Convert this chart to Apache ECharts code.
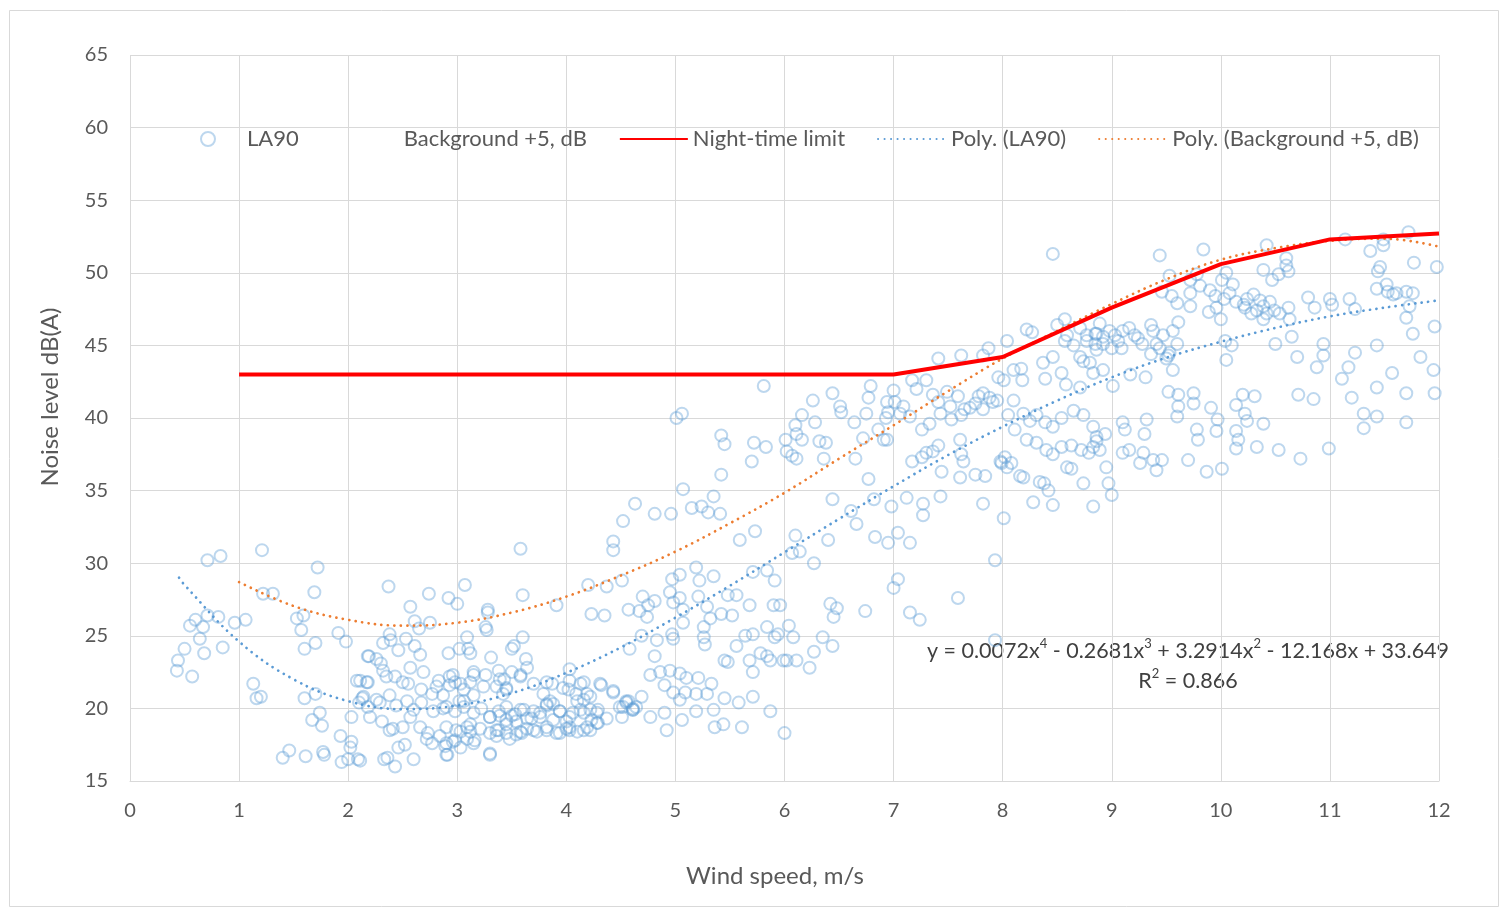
<!DOCTYPE html>
<html>
<head>
<meta charset="utf-8">
<script src="https://cdn.jsdelivr.net/npm/echarts@6/dist/echarts.min.js"></script>
<style>
html,body{margin:0;padding:0;background:#fff;}
#chart{width:1501px;height:909px;}
</style>
</head>
<body>
<div id="chart"></div>
<script>
// ---- Data ----
const seriesNames = ['LA90', 'Background +5, dB', 'Night-time limit', 'Poly. (LA90)', 'Poly. (Background +5, dB)'];
const axisTitles = { x: 'Wind speed, m/s', y: 'Noise level dB(A)' };
const xRange = [0, 12, 1];
const yRange = [15, 65, 5];

// LA90 measured points [wind speed m/s, dB]
const la90 = [
[0.71,30.2],[0.83,30.5],[1.21,30.9],[1.72,29.7],[1.22,27.9],[1.31,27.9],[1.69,28.0],[0.60,26.1],[0.71,26.4],[0.81,26.3],[0.55,25.7],[0.67,25.6],[0.64,24.8],[0.96,25.9],[1.06,26.1],[1.53,26.2],[1.59,26.4],[1.57,25.4],[1.91,25.2],[1.98,24.6],[1.70,24.5],[1.60,24.1],[0.50,24.1],[0.68,23.8],[0.85,24.2],[0.44,23.3],[0.43,22.6],[0.57,22.2],[1.13,21.7],[1.16,20.7],[1.20,20.8],[1.60,20.7],[1.70,21.0],[1.74,19.7],[1.67,19.2],[1.76,18.8],[2.03,19.4],[2.18,23.6],[2.08,21.9],[2.17,21.8],[2.10,20.4],[2.14,20.8],[1.93,18.1],[2.03,17.7],[2.02,17.3],[1.40,16.6],[1.46,17.1],[1.61,16.7],[1.77,17.0],[1.78,16.8],[1.94,16.3],[2.00,16.5],[2.09,16.5],[2.18,20.1],
[3.58,31.0],[2.37,28.4],[3.07,28.5],[2.74,27.9],[2.92,27.6],[3.00,27.2],[3.60,27.8],[2.57,27.0],[3.28,26.8],[3.28,26.6],[3.91,27.1],[2.61,26.0],[2.75,25.9],[2.65,25.5],[3.26,25.6],[3.27,25.4],[2.38,25.1],[2.39,24.7],[2.32,24.5],[2.53,24.8],[2.46,24.0],[2.61,24.3],[2.66,23.7],[3.09,24.9],[3.10,24.1],[3.12,23.8],[2.92,23.8],[3.02,24.1],[3.50,24.1],[3.52,24.3],[3.60,24.9],[3.31,23.5],[3.63,23.4],[2.19,23.6],[2.26,23.4],[2.30,23.1],[2.32,22.6],[2.35,22.2],[2.43,22.2],[2.57,22.8],[2.69,22.5],[2.50,21.8],[2.55,21.7],[2.18,21.8],[2.67,21.3],[2.83,21.9],[2.81,21.5],[2.96,22.3],[2.98,21.8],[2.93,21.6],[3.15,22.5],[3.12,21.8],[3.06,21.3],[3.26,22.3],[3.38,22.6],[3.43,22.0],[3.45,21.4],[3.50,22.5],[3.58,22.3],[3.64,22.8],[3.36,21.5],[3.42,21.0],[3.82,21.8],[3.87,21.7],[4.03,22.7],[4.02,21.3],[2.11,21.9],[2.13,20.7],[2.11,16.4],[2.26,20.6],[2.29,20.4],[2.38,20.9],[2.44,20.2],[2.54,20.5],[2.60,19.9],[2.67,20.4],[2.77,21.0],[2.78,19.8],[2.87,20.9],[2.87,20.0],[3.02,20.5],[3.06,20.1],[3.15,20.9],[2.20,19.4],[2.31,19.1],[2.38,18.5],[2.41,18.6],[2.50,18.7],[2.57,19.4],[2.46,17.3],[2.52,17.5],[2.60,16.5],[2.33,16.5],[2.36,16.6],[2.43,16.0],[2.66,18.7],[2.73,18.3],[2.72,17.9],[2.77,17.6],[2.84,18.1],[2.90,17.6],[2.91,16.8],[2.98,17.8],[2.99,18.5],[3.09,18.7],[3.12,18.4],[3.16,17.8],[3.30,16.9],[3.30,19.4],[3.39,19.5],[3.45,19.2],[3.50,19.5],[3.54,19.1],[3.58,19.9],[3.64,19.3],[3.70,19.8],[3.76,19.4],[3.82,20.3],[3.88,20.3],[3.94,19.8],[4.00,19.1],[3.36,18.5],[3.45,18.3],[3.58,18.4],[3.70,18.5],[3.82,18.5],[3.94,18.3],[4.03,18.5],
[2.90,20.1],[2.98,19.8],[3.06,20.5],[3.15,19.7],[3.22,20.0],[3.30,19.4],[3.38,19.8],[3.45,20.1],[3.53,19.6],[3.61,19.9],[3.68,19.3],[3.76,19.7],[3.82,20.2],[3.88,19.2],[3.94,19.8],[4.03,19.4],[4.10,20.5],[4.16,19.7],[4.23,19.2],[4.29,19.9],[4.37,19.3],[4.49,20.1],[4.55,20.5],[4.61,19.9],[2.90,18.7],[3.03,18.4],[3.12,18.9],[3.21,18.6],[3.30,18.3],[3.38,18.5],[3.45,18.9],[3.54,18.2],[3.64,18.6],[3.73,18.4],[3.82,18.7],[3.91,18.3],[4.00,18.6],[4.10,18.4],[4.19,18.7],[4.28,19.0],[2.89,17.4],[2.96,17.7],[3.09,17.9],[3.30,16.8],[2.90,16.8],[3.03,17.3],[3.15,17.6],[3.36,18.1],[3.48,17.9],[3.59,18.3],
[2.93,22.2],[3.03,21.7],[3.15,22.3],[3.24,21.5],[3.39,22.0],[3.45,21.3],[3.58,22.2],[3.70,21.7],[3.79,21.0],[3.85,20.5],[3.97,21.4],[4.13,21.7],[4.19,21.0],[4.31,21.7],[4.43,21.2],[4.55,20.4],[4.61,20.0],
[5.07,35.1],[4.63,34.1],[4.52,32.9],[4.43,31.5],[4.43,30.9],[4.81,33.4],[4.96,33.4],[5.15,33.8],[5.24,33.9],[5.30,33.5],[5.41,33.4],[5.35,34.6],[5.59,31.6],[5.73,32.2],[4.20,28.5],[4.37,28.4],[4.51,28.8],[4.23,26.5],[4.35,26.4],[4.57,26.8],[4.70,27.7],[4.75,27.1],[4.81,27.4],[4.67,26.7],[4.74,26.3],[4.97,28.9],[5.04,29.2],[4.95,28.0],[4.98,27.3],[5.04,27.6],[5.07,26.8],[5.07,25.9],[5.19,29.7],[5.22,28.8],[5.35,29.1],[5.21,27.7],[5.29,27.0],[5.26,25.6],[5.32,26.2],[5.42,26.5],[5.52,26.4],[5.48,27.8],[5.56,27.8],[5.68,27.1],[5.71,29.4],[5.84,29.5],[5.91,28.8],[5.90,27.1],[5.96,27.1],[4.58,24.1],[4.69,25.0],[4.83,24.7],[4.97,25.1],[4.98,24.8],[4.81,23.6],[5.26,24.9],[5.27,24.4],[5.45,23.3],[5.48,23.2],[5.56,24.3],[5.64,25.0],[5.71,25.1],[5.68,23.3],[5.71,22.5],[5.84,25.6],[5.91,24.9],[5.94,25.1],[5.78,23.8],[5.84,23.6],[5.87,23.3],[5.99,23.3],[4.77,22.3],[4.86,22.5],[4.95,22.6],[5.04,22.4],[4.90,21.6],[4.98,21.1],[5.04,20.6],[5.10,22.1],[5.09,21.1],[5.21,22.1],[5.33,21.7],[5.29,21.0],[5.19,21.0],[5.45,20.7],[5.58,20.4],[5.71,20.8],[5.87,19.8],[6.00,18.3],[4.90,19.7],[4.77,19.4],[4.92,18.5],[5.06,19.2],[5.19,19.8],[5.35,19.9],[5.36,18.7],[5.44,18.9],[5.61,18.7],[4.03,21.9],[4.16,21.8],[4.09,21.0],[4.16,20.6],[4.22,20.8],[4.06,19.7],[4.13,19.9],[4.22,19.9],[4.28,19.7],[4.29,19.0],[4.03,18.7],[4.16,18.5],[4.22,18.5],[4.32,21.6],[4.43,21.1],[4.52,20.1],[4.57,20.5],[4.64,20.1],[4.69,20.8],[4.51,19.4],[4.61,19.9],
[5.81,42.2],[5.01,40.0],[5.06,40.3],[5.42,38.8],[5.45,38.2],[5.72,38.3],[5.83,38.0],[5.70,37.0],[5.42,36.1],[6.01,38.5],[6.10,39.5],[6.11,38.9],[6.16,40.2],[6.16,38.5],[6.02,37.7],[6.07,37.4],[6.11,37.2],[6.26,41.2],[6.28,39.7],[6.32,38.4],[6.38,38.3],[6.36,37.2],[6.44,41.7],[6.51,40.8],[6.52,40.4],[6.64,39.7],[6.65,37.2],[6.72,38.6],[6.75,40.3],[6.77,41.4],[6.79,42.2],[6.77,35.8],[6.86,39.2],[6.94,38.5],[6.94,41.1],[6.93,40.0],[7.00,41.9],[6.10,31.9],[6.07,30.7],[6.14,30.8],[6.27,30.0],[6.40,31.6],[6.44,34.4],[6.61,33.6],[6.66,32.7],[6.82,34.4],[6.83,31.8],[6.95,31.4],[6.98,33.9],[7.04,32.1],
[6.04,25.7],[6.08,24.9],[6.35,24.9],[6.44,24.3],[6.27,23.9],[6.23,22.8],[6.02,23.3],[6.11,23.3],[6.42,27.2],[6.48,26.9],[6.45,26.3],[6.74,26.7],
[7.41,44.1],[7.62,44.3],[7.82,44.3],[7.87,44.8],[8.04,45.3],[8.22,46.1],[7.01,41.1],[7.09,40.8],[7.17,42.6],[7.21,42.0],[7.30,42.6],[7.36,41.6],[7.41,41.1],[7.49,41.8],[7.52,40.8],[7.59,41.5],[7.65,40.6],[7.75,41.0],[7.78,41.5],[7.82,41.7],[7.88,41.4],[7.95,41.2],[7.96,42.8],[8.01,42.6],[6.95,40.4],[7.06,40.3],[7.15,40.1],[7.26,39.2],[7.33,39.6],[7.43,40.3],[7.53,39.9],[7.62,40.2],[7.70,40.7],[7.82,40.6],[7.91,41.1],[8.05,40.2],
[6.91,38.5],[7.17,37.0],[7.26,37.3],[7.30,37.6],[7.36,37.7],[7.41,38.1],[7.44,36.3],[7.61,38.5],[7.62,37.5],[7.64,37.0],[7.61,35.9],[7.75,36.1],[7.84,36.0],[7.98,37.0],[8.02,37.3],[8.04,36.6],[8.16,36.0],[8.19,35.9],[8.34,35.6],[8.38,35.5],[8.42,35.0],
[7.12,34.5],[7.43,34.6],[7.27,34.1],[7.27,33.3],[7.15,31.4],[7.82,34.1],[8.01,33.1],[7.93,30.2],[7.04,28.9],[7.00,28.3],[7.15,26.6],[7.24,26.1],[7.59,27.6],[7.93,24.7],
[8.10,43.3],[8.17,43.4],[8.18,42.6],[8.37,43.8],[8.39,42.7],[8.46,44.2],[8.54,43.1],[8.58,42.3],[8.71,44.2],[8.74,43.9],[8.71,42.1],[8.83,43.1],[8.86,44.7],[8.65,45.0],[8.57,45.3],[8.77,45.3],
[8.10,41.2],[8.19,40.3],[8.25,39.8],[8.31,40.2],[8.39,39.7],[8.46,39.4],[8.54,40.0],[8.65,40.5],[8.74,40.2],[8.83,39.4],[8.11,39.2],[8.22,38.5],[8.31,38.3],[8.40,37.8],[8.46,37.5],[8.54,38.0],[8.63,38.1],[8.72,37.8],[8.79,37.6],[8.86,38.4],
[7.99,36.9],[8.08,36.9],[8.59,36.6],[8.63,36.5],[8.74,35.5],[8.83,33.9],[8.46,34.0],[8.28,34.2],[8.97,35.5],[9.00,34.7],
[8.46,51.3],[8.27,45.9],[8.50,46.4],[8.57,46.8],[8.59,45.7],[8.71,46.2],[8.77,45.7],[8.86,45.8],[8.85,45.1],
[9.44,51.2],[9.84,51.6],[10.42,51.9],[9.53,49.8],[9.46,48.7],[9.72,49.5],[9.78,49.9],[9.81,49.1],[9.72,48.6],[9.72,47.7],[9.55,48.4],[9.60,47.9],[9.90,48.8],[9.95,48.4],[10.01,49.5],[10.05,50.0],[10.08,48.6],[10.11,49.2],[10.14,48.0],[9.96,47.6],[9.89,47.3],[10.00,46.8],[10.03,48.2],[10.24,48.2],[10.30,48.5],[10.36,48.1],[10.39,47.7],[10.22,47.6],[10.28,47.2],[10.33,47.4],[10.42,47.2],[10.21,47.8],
[8.89,46.5],[8.85,45.8],[8.92,45.6],[8.98,46.0],[9.03,45.7],[9.06,45.3],[9.10,46.0],[9.16,46.2],[9.21,45.7],[9.24,45.5],[9.28,45.1],[9.36,46.4],[9.38,46.0],[9.41,45.1],[9.47,45.7],[9.56,46.0],[9.61,46.6],[9.60,45.1],[9.53,44.5],[9.50,44.1],[9.36,44.4],[9.44,44.8],[9.09,44.8],[9.00,44.8],[8.92,45.1],
[10.04,45.3],[10.10,45.0],[10.05,44.0],[9.56,43.3],[9.52,44.3],[8.92,43.3],[9.01,42.2],[9.17,43.0],[9.31,42.8],[8.80,43.8],
[9.52,41.8],[9.61,41.6],[9.61,40.8],[9.60,40.1],[9.75,41.7],[9.75,41.0],[9.78,39.2],[9.79,38.5],[9.91,40.7],[9.97,39.9],[9.96,39.1],[10.14,40.9],[10.20,41.6],[10.31,41.5],[10.22,40.3],[10.24,39.8],[10.14,39.1],[10.16,38.5],[10.14,37.9],[10.39,39.6],[10.33,38.0],[9.32,39.9],[9.30,38.9],[9.10,39.7],[9.12,39.2],[9.10,37.6],[9.16,37.8],[9.29,37.6],[9.38,37.1],[9.46,37.1],[9.26,36.9],[9.70,37.1],[9.87,36.3],[10.01,36.5],[9.41,36.4],[8.95,36.6],[8.83,38.0],[8.86,38.7],[8.94,38.9],[8.89,37.8],
[11.14,52.3],[11.49,52.3],[11.49,51.9],[11.37,51.5],[11.77,50.7],[11.98,50.4],[11.72,52.8],[10.60,51.0],[10.60,50.5],[10.62,50.1],[10.53,49.9],[10.47,49.5],[10.39,50.2],[11.46,50.4],[11.44,50.1],[11.43,48.9],[11.52,49.2],[11.53,48.7],[11.58,48.5],[11.61,48.6],[11.70,48.7],[11.76,48.6],[11.73,47.7],[11.70,46.9],[11.76,45.8],[11.96,46.3],[10.45,48.0],[10.49,47.4],[10.54,47.2],[10.62,47.6],[10.63,46.8],[10.39,46.8],[10.80,48.3],[10.86,47.6],[11.00,48.2],[11.02,47.8],[11.18,48.2],[11.23,47.5],
[10.65,45.6],[10.50,45.1],[10.70,44.2],[10.94,45.1],[10.94,44.3],[10.88,43.5],[11.23,44.5],[11.17,43.5],[11.11,42.7],[11.43,45.0],[11.57,43.1],[11.83,44.2],[11.95,43.3],[11.96,41.7],[11.70,41.7],[11.43,42.1],[11.20,41.4],[10.85,41.3],[10.71,41.6],[11.31,40.3],[11.43,40.1],[11.31,39.3],[11.70,39.7],[10.53,37.8],[10.99,37.9],[10.73,37.2]
];

// Night-time limit (wind speed m/s, dB)
const nightX = [1, 2, 3, 4, 5, 6, 7, 8, 9, 10, 11, 12];
const nightY = [43, 43, 43, 43, 43, 43, 43, 44.2, 47.6, 50.6, 52.3, 52.7];

// Polynomial trendline of LA90
const polyLaX = [0.45, 0.5, 1, 1.5, 2, 2.5, 3, 3.5, 4, 4.5, 5, 5.5, 6, 6.5, 7, 7.5, 8, 8.5, 9, 9.5, 10, 10.5, 11, 11.5, 12];
const polyLaY = [29.0, 28.5, 24.6, 22.0, 20.5, 19.95, 20.2, 21.05, 22.45, 24.2, 26.25, 28.45, 30.75, 33.05, 35.3, 37.45, 39.4, 41.2, 42.8, 44.15, 45.25, 46.2, 47.0, 47.6, 48.1];

// Polynomial trendline of Background +5, dB
const polyBgX = [1, 1.5, 2, 2.5, 3, 3.5, 4, 4.5, 5, 5.5, 6, 6.5, 7, 7.5, 8, 8.5, 9, 9.5, 10, 10.5, 11, 11.5, 12];
const polyBgY = [28.7, 27.05, 26.1, 25.7, 25.9, 26.6, 27.7, 29.15, 30.8, 32.75, 34.85, 37.2, 39.5, 41.85, 44.1, 46.0, 47.85, 49.55, 50.9, 51.7, 52.2, 52.35, 51.8];

// Trendline label
const eqParts = [['y = 0.0072x', '4'], [' - 0.2681x', '3'], [' + 3.2914x', '2'], [' - 12.168x + 33.649', '']];
const r2Text = ['R', '2', ' = 0.866'];

// ---- Chart ----
const zip = (xs, ys) => xs.map((x, i) => [x, ys[i]]);
const FONT = 'Lato, "Open Sans", sans-serif';
const TXT = '#595959';

const chart = echarts.init(document.getElementById('chart'), null, { renderer: 'canvas' });

const eqRich = eqParts.map(p => '{n|' + p[0] + '}' + (p[1] ? '{s|' + p[1] + '}' : '')).join('');
const r2Rich = '{n|' + r2Text[0] + '}{s|' + r2Text[1] + '}{n|' + r2Text[2] + '}';
const richStyle = {
  n: { fontSize: 21.5, lineHeight: 27, fontFamily: FONT, fill: '#404040', color: '#404040' },
  s: { fontSize: 13, lineHeight: 17, verticalAlign: 'top', fontFamily: FONT, fill: '#404040', color: '#404040' }
};

const hiddenMarker = { opacity: 0 };

const option = {
  backgroundColor: '#fff',
  animation: false,
  textStyle: { fontFamily: FONT },
  grid: { left: 130, right: 62, top: 55, bottom: 128, containLabel: false },
  legend: {
    left: 195, top: 123,
    itemWidth: 68, itemHeight: 14, itemGap: 32,
    textStyle: { color: TXT, fontSize: 22, fontFamily: FONT },
    data: [
      { name: seriesNames[0] },
      { name: seriesNames[1], itemStyle: hiddenMarker, lineStyle: { opacity: 0 } },
      { name: seriesNames[2], itemStyle: hiddenMarker },
      { name: seriesNames[3], itemStyle: hiddenMarker },
      { name: seriesNames[4], itemStyle: hiddenMarker }
    ]
  },
  xAxis: {
    type: 'value', min: xRange[0], max: xRange[1], interval: xRange[2],
    axisLine: { show: true, lineStyle: { color: '#d9d9d9', width: 1 } },
    axisTick: { show: false },
    axisLabel: { color: TXT, fontSize: 20, margin: 20, fontFamily: FONT },
    splitLine: { show: true, lineStyle: { color: '#d9d9d9', width: 1 } }
  },
  yAxis: {
    type: 'value', min: yRange[0], max: yRange[1], interval: yRange[2],
    axisLine: { show: false },
    axisTick: { show: false },
    axisLabel: { color: TXT, fontSize: 20, margin: 22, fontFamily: FONT },
    splitLine: { show: true, lineStyle: { color: '#d9d9d9', width: 1 } }
  },
  series: [
    {
      name: seriesNames[0], type: 'scatter', data: la90,
      symbol: 'circle', symbolSize: 12,
      itemStyle: { color: 'rgba(255,255,255,0)', borderColor: 'rgba(91,155,213,0.5)', borderWidth: 2 },
      emphasis: { disabled: true }, z: 2
    },
    {
      name: seriesNames[1], type: 'line', data: [],
      symbol: 'none', lineStyle: { opacity: 0, width: 0 }, itemStyle: { opacity: 0 }
    },
    {
      name: seriesNames[2], type: 'line', data: zip(nightX, nightY),
      symbol: 'none', color: '#FF0000',
      lineStyle: { color: '#FF0000', width: 4 }, z: 4
    },
    {
      name: seriesNames[3], type: 'line', data: zip(polyLaX, polyLaY), smooth: 0.4,
      symbol: 'none', color: '#5B9BD5',
      lineStyle: { color: '#5B9BD5', width: 2.7, type: [0.1, 6.4], cap: 'round' }, z: 3
    },
    {
      name: seriesNames[4], type: 'line', data: zip(polyBgX, polyBgY), smooth: 0.4,
      symbol: 'none', color: '#ED7D31',
      lineStyle: { color: '#ED7D31', width: 2.7, type: [0.1, 6.4], cap: 'round' }, z: 3
    }
  ],
  graphic: [
    {
      type: 'rect', left: 7, top: 8, silent: true, z: -1,
      shape: { width: 1489, height: 896 },
      style: { fill: 'none', stroke: '#d9d9d9', lineWidth: 1 }
    },
    {
      type: 'text', x: 1188, y: 651, silent: true,
      style: { text: eqRich, rich: richStyle, align: 'center', verticalAlign: 'middle', font: '21.5px ' + FONT }
    },
    {
      type: 'text', x: 1188, y: 681, silent: true,
      style: { text: r2Rich, rich: richStyle, align: 'center', verticalAlign: 'middle', font: '21.5px ' + FONT }
    },
    {
      type: 'text', x: 775, y: 876, silent: true,
      style: { text: axisTitles.x, fill: TXT, font: '24px ' + FONT, align: 'center', verticalAlign: 'middle' }
    },
    {
      type: 'text', x: 50, y: 397, rotation: Math.PI / 2, silent: true,
      style: { text: axisTitles.y, fill: TXT, font: '24px ' + FONT, align: 'center', verticalAlign: 'middle' }
    }
  ]
};
chart.setOption(option);
</script>
</body>
</html>
